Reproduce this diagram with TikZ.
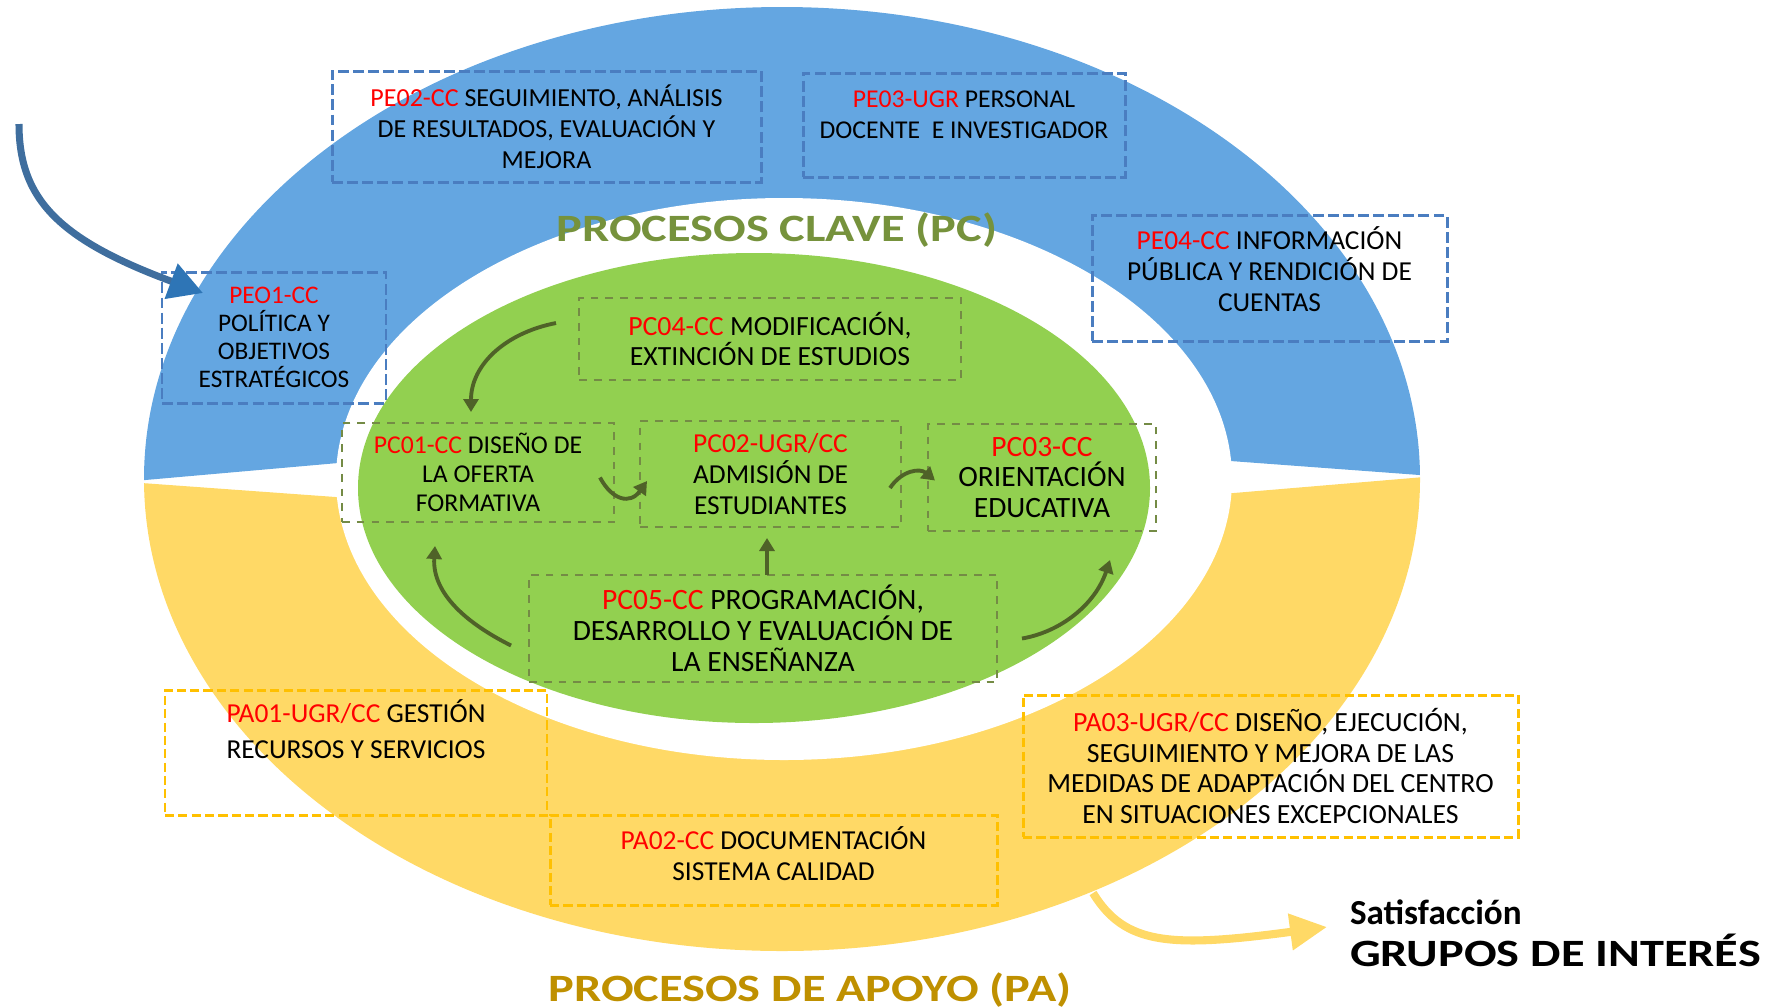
\documentclass[tikz,border=0pt]{standalone}
\usepackage{fontspec}
\setmainfont{Carlito}
\newfontfamily\widefont[FakeStretch=1.25]{Carlito}
\usepackage{xcolor}
\usetikzlibrary{positioning, arrows.meta}

\definecolor{ringblue}{HTML}{64A6E1}
\definecolor{ringyellow}{HTML}{FFD966}
\definecolor{coregreen}{HTML}{92D050}
\definecolor{peline}{HTML}{4A7DC0}
\definecolor{pcline}{HTML}{748B45}
\definecolor{paline}{HTML}{FFC000}
\definecolor{codered}{HTML}{FF0000}
\definecolor{clavegreen}{HTML}{76923C}
\definecolor{apoyogold}{HTML}{BF9000}
\definecolor{flowolive}{HTML}{4F6228}
\definecolor{inblue}{HTML}{3F6E9E}
\definecolor{headblue}{HTML}{2E75B6}
\newcommand{\pcode}[1]{\textcolor{codered}{#1}}

\begin{document}
\begin{tikzpicture}[x=0.1mm, y=-0.1mm,
  every node/.style={inner sep=0pt, outer sep=0pt},
  box/.style={align=center, font=\fontsize{7.8}{8.8}\selectfont, line width=0.85pt},
  pebox/.style={box, draw=peline, dash pattern=on 3.1pt off 1.2pt},
  pcbox/.style={box, draw=pcline, line width=0.6pt, dash pattern=on 2.2pt off 2pt},
  pabox/.style={box, draw=paline, dash pattern=on 2.6pt off 1.2pt},
  flow/.style={draw=flowolive, line width=1.1pt, -{Triangle[length=1.3mm, width=1.5mm]}},
  title/.style={font=\widefont\bfseries\fontsize{11}{13}\selectfont, anchor=base}]
\useasboundingbox (0,0) rectangle (1765,1006);
% rings: upper blue half, lower yellow half
\begin{scope}
  \clip (100,484) -- (758,426) -- (1460,478) -- (1460,0) -- (100,0) -- cycle;
  \fill[ringblue] (782,479) ellipse [x radius=638, y radius=472];
\end{scope}
\begin{scope}
  \clip (100,480) -- (793,530) -- (1460,474) -- (1460,1006) -- (100,1006) -- cycle;
  \fill[ringyellow] (782,479) ellipse [x radius=638, y radius=472];
\end{scope}
\fill[white] (784,479) ellipse [x radius=448, y radius=281];
\fill[coregreen] (754,488) ellipse [x radius=396, y radius=235];
% strategic boxes
\node[pebox, font=\fontsize{7.4}{8.8}\selectfont, minimum width=4.29cm, minimum height=1.11cm] (pe02) at (546.5,126.5)
  {\pcode{PE02-CC} SEGUIMIENTO, ANÁLISIS\\DE RESULTADOS, EVALUACIÓN Y\\MEJORA};
\node[pebox, font=\fontsize{7.3}{8.8}\selectfont, minimum width=3.22cm, minimum height=1.04cm] (pe03) at (964,125)
  {\pcode{PE03-UGR} PERSONAL\\DOCENTE~ E INVESTIGADOR\\[-5.6pt]\strut};
\node[pebox, minimum width=3.55cm, minimum height=1.26cm] (pe04) at (1269.5,278)
  {\pcode{PE04-CC} INFORMACIÓN\\PÚBLICA Y RENDICIÓN DE\\CUENTAS\\[-6.4pt]\strut};
\node[pebox, font=\fontsize{7.2}{8}\selectfont, minimum width=2.24cm, minimum height=1.31cm] (pe01) at (274,337.5)
  {\pcode{PEO1-CC}\\POLÍTICA Y\\OBJETIVOS\\ESTRATÉGICOS};
% key boxes
\node[pcbox, font=\fontsize{7.9}{8.6}\selectfont, minimum width=3.82cm, minimum height=0.82cm] (pc04) at (770,339)
  {\pcode{PC04-CC} MODIFICACIÓN,\\EXTINCIÓN DE ESTUDIOS};
\node[pcbox, font=\fontsize{7.3}{8.2}\selectfont, minimum width=2.72cm, minimum height=0.99cm] (pc01) at (478,472.5)
  {\pcode{PC01-CC} DISEÑO DE\\LA OFERTA\\FORMATIVA};
\node[pcbox, minimum width=2.61cm, minimum height=1.06cm] (pc02) at (770.5,474)
  {\pcode{PC02-UGR/CC}\\ADMISIÓN DE\\ESTUDIANTES};
\node[pcbox, font=\fontsize{8.4}{8.8}\selectfont, minimum width=2.28cm, minimum height=1.07cm] (pc03) at (1042,477.5)
  {\pcode{PC03-CC}\\ORIENTACIÓN\\EDUCATIVA};
\node[pcbox, font=\fontsize{8.4}{8.8}\selectfont, minimum width=4.68cm, minimum height=1.07cm] (pc05) at (763,628.5)
  {\pcode{PC05-CC} PROGRAMACIÓN,\\DESARROLLO Y EVALUACIÓN DE\\LA ENSEÑANZA};
% support boxes
\node[pabox, font=\fontsize{7.8}{10.2}\selectfont, minimum width=3.82cm, minimum height=1.25cm] (pa01) at (356,752.5)
  {\pcode{PA01-UGR/CC} GESTIÓN\\RECURSOS Y SERVICIOS\\\strut};
\node[pabox, minimum width=4.47cm, minimum height=0.90cm] (pa02) at (773.5,860)
  {\pcode{PA02-CC} DOCUMENTACIÓN\\SISTEMA CALIDAD\\[-8pt]\strut};
\node[pabox, font=\fontsize{7.9}{8.8}\selectfont, minimum width=4.95cm, minimum height=1.42cm] (pa03) at (1270.5,766)
  {\pcode{PA03-UGR/CC} DISEÑO, EJECUCIÓN,\\SEGUIMIENTO Y MEJORA DE LAS\\MEDIDAS DE ADAPTACIÓN DEL CENTRO\\EN SITUACIONES EXCEPCIONALES};
% titles
\node[title, text=clavegreen] (pctitle) at (777,241) {PROCESOS CLAVE (PC)};
\node[title, text=apoyogold] (patitle) at (810,1001) {PROCESOS DE APOYO (PA)};
\node[anchor=base west, font=\bfseries\fontsize{10}{11}\selectfont] (sat) at (1350,924) {Satisfacción};
\node[anchor=base west, font=\widefont\bfseries\fontsize{11}{13}\selectfont] (grupos) at (1350,966) {GRUPOS DE INTERÉS};
% flows inside the key processes
\draw[flow] ([shift={(-23,-16)}]pc04.west) .. controls (505,333) and (471,365) .. ([shift={(-7,-11)}]pc01.north);
\draw[flow] ([shift={(-14,5)}]pc01.east) .. controls (612,500) and (630,505) .. ([shift={(7,7)}]pc02.west);
\draw[flow] ([shift={(-11,14)}]pc02.east) .. controls (902,470) and (920,468) .. ([shift={(7,3)}]pc03.west);
\draw[flow] ([xshift=0.4mm]pc05.north) -- ++(0,-37);
\draw[flow] ([shift={(-18,17)}]pc05.west) .. controls (470,625) and (432,595) .. ([shift={(-43,24)}]pc01.south);
\draw[flow] ([shift={(25,10)}]pc05.east) .. controls (1060,632) and (1095,605) .. ([shift={(68,29)}]pc03.south);
% input and output arrows
\coordinate (inflow) at (19,124);
\draw[line width=2pt, draw=inblue, -{Triangle[length=3.4mm, width=3.6mm, color=headblue, fill=headblue]}]
  (inflow) .. controls (19,200) and (60,240) .. ([shift={(41,21)}]pe01.north west);
\coordinate (paout) at (1093,893);
\draw[line width=2.3pt, draw=ringyellow, -{Triangle[length=3.7mm, width=3.5mm]}]
  (paout) .. controls (1125,945) and (1170,948) .. ([shift={(-23,3)}]sat.base west);
\end{tikzpicture}
\end{document}
